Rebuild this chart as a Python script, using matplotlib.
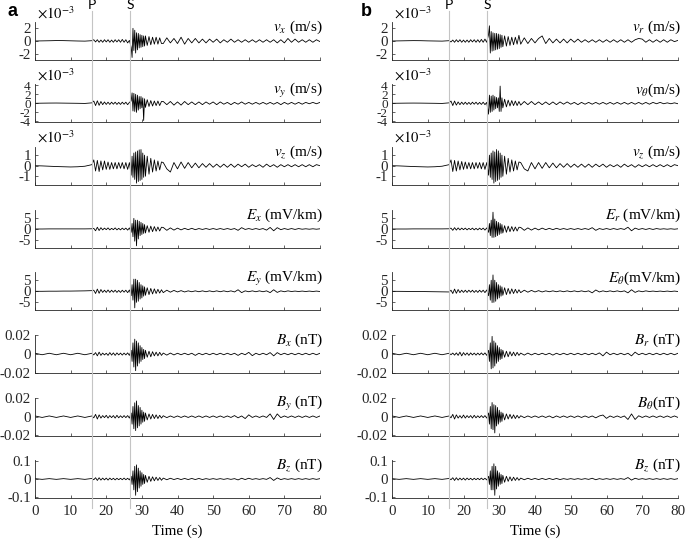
import numpy as np
import matplotlib
matplotlib.use('Agg')
import matplotlib.pyplot as plt
from matplotlib import transforms
from matplotlib.lines import Line2D

plt.rcParams['font.family'] = 'Liberation Serif'
plt.rcParams['mathtext.fontset'] = 'stix'
plt.rcParams['axes.unicode_minus'] = False

# sample times (s): coarse before P, finer through the P and S windows
t_pre = [0, 2, 4, 6, 8, 10, 12, 14]
t_p = [16, 16.5, 17, 17.5, 18, 18.5, 19, 19.5, 20, 20.5, 21, 21.5,
       22, 22.5, 23, 23.5, 24, 24.5, 25, 25.5, 26, 26.5]
t_s1 = [27, 27.25, 27.5, 27.75, 28, 28.25, 28.5, 28.75,
        29, 29.25, 29.5, 29.75, 30, 30.25, 30.5, 30.75]
t_s2 = [31, 31.5, 32, 32.5, 33, 33.5, 34, 34.5, 35, 35.5]
t_tail = list(range(36, 81))
time = np.array(t_pre + t_p + t_s1 + t_s2 + t_tail, dtype=float)

p_arrival = 16.0
s_arrival = 26.7

# common quiet tails (peaks)
vel_tail_1 = [-0.4, 0.5, -0.3, 0.4, -0.4, 0.6, -0.5, 0.4, -0.3, 0.4,
              -0.3, 0.3, -0.3, 0.3, -0.2, 0.3, -0.3, 0.2, -0.2, 0.3,
              -0.2, 0.2, -0.2, 0.2, -0.2, 0.2, -0.2, 0.2, -0.2, 0.2,
              -0.2, 0.2, -0.3, 0.2, -0.3, 0.4, -0.2, 0.3, -0.2, 0.2,
              -0.2, 0.2, -0.2, 0.2, -0.1]

# ---- panel a : x, y, z components ----
# velocities in 1e-3 m/s
vx_a = ([0.0, 0.02, 0.04, 0.07, 0.06, 0.03, 0.0, -0.02]
        + [0.05, 0.2, -0.15, 0.2, -0.2, 0.15, -0.2, 0.2, -0.15, 0.2, -0.2,
           0.15, -0.2, 0.2, -0.15, 0.2, -0.2, 0.25, -0.2, 0.2, -0.3, 0.1]
        + [-1.0, -2.6, 2.0, -1.5, 1.7, -1.9, 1.3, -1.4, 1.2, -1.1, 1.0, -1.0, 0.9, -0.9, 0.8, -0.8]
        + [0.8, -0.7, 0.7, -0.6, 0.6, -0.5, 0.6, -0.5, 0.5, -0.4]
        + vel_tail_1)
vy_a = ([0.0, 0.03, 0.05, 0.06, 0.04, 0.02, 0.0, -0.03]
        + [0.1, 0.5, -0.5, 0.55, -0.45, 0.4, -0.3, 0.3, -0.25, 0.25, -0.25,
           0.25, -0.2, 0.25, -0.25, 0.2, -0.25, 0.25, -0.2, 0.25, -0.3, 0.2]
        + [0.5, 2.3, -1.7, 2.2, -1.8, 2.0, -2.0, 1.8, -1.5, 1.5, -1.2, 1.5, -1.0, 1.2, -3.8, 1.0]
        + [-0.9, 0.8, -0.7, 0.6, -0.6, 0.5, -0.5, 0.5, -0.5, 0.4]
        + [0.4, -0.3, 0.4, -0.4, 0.3, -0.4, 0.4, -0.3, 0.3, -0.3,
           0.3, -0.3, 0.3, -0.2, 0.3, -0.3, 0.3, -0.2, 0.2, -0.3,
           0.2, -0.2, 0.3, -0.2, 0.2, -0.2, 0.2, -0.2, 0.2, -0.2,
           0.2, -0.2, 0.2, -0.3, 0.2, -0.2, 0.2, -0.2, 0.2, -0.2,
           0.2, -0.1, 0.2, -0.1, 0.2])
vz_a = ([0.0, -0.02, -0.05, -0.08, -0.1, -0.12, -0.1, -0.05]
        + [0.1, 0.55, -0.5, 0.5, -0.55, 0.45, -0.4, 0.45, -0.35, 0.35, -0.35,
           0.3, -0.3, 0.3, -0.3, 0.3, -0.25, 0.3, -0.3, 0.3, -0.35, 0.3]
        + [-0.9, 0.9, -1.1, 1.2, -1.3, 1.3, -1.65, 1.4, -1.5, 1.5, -1.4, 1.53, -1.3, 1.2, -1.1, 1.0]
        + [-1.0, 0.9, -0.8, 0.7, -0.6, 0.55, -0.5, 0.45, -0.4, 0.35]
        + [0.3, -0.3, -0.6, 0.3, -0.3, 0.35, -0.25, 0.3, -0.2, 0.25,
           -0.2, 0.2, -0.15, 0.2, -0.15, 0.15, -0.15, 0.15, -0.15, 0.15,
           -0.15, 0.15, -0.1, 0.15, -0.15, 0.1, -0.1, 0.1, -0.15, 0.15,
           -0.1, 0.1, -0.15, 0.1, -0.1, 0.1, -0.1, 0.1, -0.1, 0.1,
           -0.1, 0.1, -0.1, 0.1, 0.0])
# electric field in mV/km
ex_a = ([0.0, 0.0, 0.05, 0.05, 0.05, 0.05, 0.05, 0.05]
        + [0.1, 0.3, -0.8, 0.8, -0.7, 0.6, -0.4, 0.4, -0.3, 0.5, -0.4,
           0.3, -0.3, 0.5, -0.4, 0.3, -0.4, 0.4, -0.3, 0.4, -0.5, 0.5]
        + [-1.5, 2.5, -3.5, 4.8, -5.5, 4.0, -7.6, 4.0, -4.5, 3.5, -3.0, 3.0, -2.5, 2.5, -2.0, 2.0]
        + [-1.8, 1.5, -1.5, 1.3, -1.2, 1.1, -1.0, 0.9, -0.9, 0.8]
        + [0.7, -0.6, 0.5, -0.5, 0.4, -0.4, 0.3, -0.3, 0.3, -0.3,
           0.2, -0.2, 0.2, -0.2, 0.2, -0.2, 0.2, -0.2, 0.2, -0.2,
           0.2, -0.6, 0.6, -0.2, 0.2, -0.2, 0.2, -0.2, 0.2, -0.5,
           0.7, -0.8, 0.6, -0.3, 0.2, -0.2, 0.2, -0.2, 0.2, -0.1,
           0.1, -0.1, 0.1, -0.1, 0.1])
ey_a = ([0.0, 0.0, 0.05, 0.05, 0.1, 0.1, 0.15, 0.2]
        + [0.3, 0.5, -1.0, 1.0, -0.9, 0.8, -0.5, 0.5, -0.5, 0.6, -0.5,
           0.5, -0.4, 0.5, -0.5, 0.4, -0.5, 0.5, -0.4, 0.5, -0.6, 0.6]
        + [-2.0, 3.0, -4.0, 5.5, -7.5, 5.5, -5.0, 5.0, -4.5, 4.0, -3.5, 3.0, -3.0, 2.5, -2.2, 2.0]
        + [-1.8, 1.6, -1.5, 1.3, -1.2, 1.1, -1.0, 0.9, -0.8, 0.7]
        + [-0.6, 0.5, -0.4, 0.4, -0.3, 0.3, -0.3, 0.2, -0.2, 0.2,
           -0.2, 0.2, -0.2, 0.2, -0.2, 0.2, -0.2, 0.2, -0.2, 0.2,
           -0.3, 0.7, -0.6, 0.2, -0.2, 0.2, -0.2, 0.2, -0.2, 0.2,
           -0.6, 0.7, -0.5, 0.2, -0.2, 0.2, -0.1, 0.1, -0.1, 0.1,
           -0.1, 0.1, -0.1, 0.1, -0.1])
# magnetic field in nT
bx_a = ([0.0008, -0.0008, 0.0008, -0.0008, 0.0008, -0.0008, 0.0008, -0.0008]
        + [0.0008, -0.001, 0.0015, -0.002, 0.002, -0.0015, 0.001, -0.001, 0.0008, -0.0015, 0.0015,
           -0.0012, 0.0012, -0.0015, 0.0012, -0.001, 0.001, -0.0012, 0.001, -0.001, 0.0012, -0.0015]
        + [0.004, -0.008, 0.012, -0.014, 0.016, -0.018, 0.014, -0.013,
           0.012, -0.01, 0.009, -0.008, 0.007, -0.006, 0.005, -0.005]
        + [0.004, -0.0035, 0.003, -0.003, 0.0025, -0.002, 0.002, -0.002, 0.0018, -0.0015]
        + [0.001, -0.0012, 0.001, -0.001, 0.0008, -0.0008, 0.0008, -0.0008, 0.0008, -0.0015,
           0.0008, -0.0008, 0.0008, -0.0008, 0.0008, -0.0008, 0.0008, -0.0008, 0.0008, -0.0008,
           0.0008, -0.0015, 0.0008, -0.0008, 0.0018, -0.0018, 0.0008, -0.0008, 0.0008, -0.0008,
           0.0015, -0.002, 0.0015, -0.0008, 0.0008, -0.0008, 0.0008, -0.0008, 0.0008, -0.0008,
           0.0008, -0.0008, 0.0008, -0.0008, 0.0008])
by_a = ([0.0008, -0.0008, 0.0008, -0.0008, 0.0008, -0.0008, 0.0008, -0.0008]
        + [0.0008, -0.0012, 0.0025, -0.0025, 0.002, -0.0015, 0.0012, -0.001, 0.0015, -0.0015, 0.0012,
           -0.001, 0.0012, -0.0015, 0.0015, -0.0012, 0.001, -0.001, 0.0012, -0.001, 0.0012, -0.0015]
        + [0.004, -0.008, 0.011, -0.013, 0.015, -0.015, 0.017, -0.012,
           0.012, -0.01, 0.01, -0.008, 0.007, -0.006, 0.005, -0.005]
        + [0.004, -0.0035, 0.003, -0.0025, 0.0025, -0.002, 0.002, -0.002, 0.0015, -0.0015]
        + [0.001, -0.001, 0.0008, -0.0008, 0.0008, -0.0008, 0.0008, -0.0008, 0.0008, -0.0008,
           0.0008, -0.0008, 0.0008, -0.0008, 0.0008, -0.0008, 0.0008, -0.0008, 0.0008, -0.0008,
           0.0012, -0.0012, 0.0008, -0.002, 0.002, -0.0008, 0.0008, -0.0008, 0.0008, -0.0008,
           0.003, -0.003, 0.003, -0.001, 0.0008, -0.0008, 0.0008, -0.0008, 0.0008, -0.0008,
           0.0008, -0.0008, 0.0008, -0.0008, 0.0008])
bz_a = ([0.002, -0.002, 0.002, -0.002, 0.002, -0.002, 0.002, -0.002]
        + [0.003, -0.004, 0.007, -0.008, 0.007, -0.006, 0.005, -0.005, 0.005, -0.006, 0.005,
           -0.004, 0.004, -0.005, 0.004, -0.004, 0.004, -0.004, 0.005, -0.004, 0.004, -0.005]
        + [0.015, -0.03, 0.045, -0.06, 0.07, -0.09, 0.078, -0.07,
           0.06, -0.05, 0.045, -0.04, 0.035, -0.03, 0.025, -0.025]
        + [0.02, -0.018, 0.015, -0.013, 0.012, -0.01, 0.01, -0.008, 0.008, -0.007]
        + [0.005, -0.004, 0.004, -0.003, 0.003, -0.003, 0.003, -0.003, 0.003, -0.003,
           0.003, -0.003, 0.002, -0.002, 0.002, -0.002, 0.002, -0.002, 0.002, -0.002,
           0.002, -0.005, 0.004, -0.003, 0.004, -0.002, 0.002, -0.002, 0.002, -0.002,
           0.008, -0.008, 0.006, -0.003, 0.002, -0.002, 0.002, -0.002, 0.002, -0.002,
           0.002, -0.002, 0.002, -0.002, 0.002])

# ---- panel b : r, theta, z components ----
vr_b = ([0.0, 0.02, 0.04, 0.06, 0.05, 0.02, 0.0, -0.02]
        + [0.05, -0.15, 0.15, -0.2, 0.2, -0.15, 0.2, -0.2, 0.15, -0.2, 0.15,
           -0.2, 0.2, -0.15, 0.2, -0.2, 0.2, -0.2, 0.25, -0.2, 0.3, -0.2]
        + [1.0, 2.4, -1.9, 1.5, -1.6, 1.3, -1.5, 1.2, -1.4, 1.2, -1.3, 1.1, -1.2, 1.0, -1.0, 0.9]
        + [-0.9, 0.8, -0.8, 0.7, -0.7, 0.6, -0.6, 0.6, -0.5, 0.9]
        + [-0.5, 0.5, -0.4, 0.4, -0.3, 0.4, 0.8, -0.4, 0.4, -0.3,
           0.3, -0.3, 0.3, -0.3, 0.3, -0.2, 0.3, -0.2, 0.2, -0.2,
           0.2, -0.2, 0.2, -0.2, 0.2, -0.2, 0.2, -0.2, 0.2, -0.2,
           0.2, -0.2, 0.2, 0.4, 0.3, -0.2, 0.2, -0.2, 0.2, -0.2,
           0.2, -0.2, 0.2, -0.1, 0.1])
vt_b = ([0.0, 0.02, 0.04, 0.05, 0.04, 0.02, 0.0, -0.03]
        + [0.1, 0.5, -0.5, 0.5, -0.4, 0.3, -0.3, 0.25, -0.25, 0.25, -0.25,
           0.2, -0.25, 0.25, -0.2, 0.25, -0.25, 0.2, -0.25, 0.25, -0.3, 0.2]
        + [-2.4, 1.8, -2.0, 1.6, -1.8, 1.8, -1.5, 1.5, -1.2, 1.3, -1.0, 1.2, -1.8, 3.8, -1.8, 1.2]
        + [-1.0, 0.9, -0.8, 0.7, -0.6, 0.6, -0.5, 0.5, -0.5, 0.4]
        + [-0.4, 0.4, -0.3, 0.4, -0.3, 0.3, -0.3, 0.3, -0.3, 0.3,
           -0.3, 0.3, -0.2, 0.3, -0.2, 0.2, -0.3, 0.2, -0.2, 0.2,
           -0.2, 0.2, -0.2, 0.2, -0.2, 0.2, -0.2, 0.2, -0.2, 0.2,
           -0.2, 0.2, -0.2, 0.2, -0.2, 0.2, -0.2, 0.2, -0.1, 0.2,
           -0.1, 0.1, -0.1, 0.1, -0.1])
vz_b = ([0.0, -0.02, -0.05, -0.08, -0.1, -0.12, -0.1, -0.05]
        + [0.1, 0.55, -0.55, 0.5, -0.5, 0.45, -0.4, 0.4, -0.35, 0.35, -0.3,
           0.3, -0.3, 0.3, -0.3, 0.3, -0.25, 0.3, -0.3, 0.3, -0.35, 0.3]
        + [-0.9, 1.0, -1.1, 1.2, -1.3, 1.4, -1.65, 1.3, -1.5, 1.53, -1.4, 1.4, -1.3, 1.2, -1.1, 1.0]
        + [-1.0, 0.9, -0.8, 0.7, -0.6, 0.55, -0.5, 0.45, -0.4, 0.35]
        + [0.3, -0.3, -0.5, 0.3, -0.3, 0.3, -0.25, 0.3, -0.2, 0.25,
           -0.2, 0.2, -0.15, 0.2, -0.15, 0.15, -0.15, 0.15, -0.15, 0.15,
           -0.15, 0.15, -0.1, 0.15, -0.15, 0.1, -0.1, 0.1, -0.15, 0.15,
           -0.1, 0.1, -0.15, 0.1, -0.1, 0.1, -0.1, 0.1, -0.1, 0.1,
           -0.1, 0.1, -0.1, 0.1, 0.0])
er_b = ([0.0, 0.0, 0.0, 0.05, 0.05, 0.05, 0.05, 0.05]
        + [0.1, 0.4, -0.6, 0.6, -0.5, 0.5, -0.4, 0.4, -0.3, 0.4, -0.4,
           0.3, -0.3, 0.4, -0.4, 0.3, -0.4, 0.4, -0.3, 0.4, -0.5, 0.5]
        + [-1.5, 2.5, -3.0, 4.0, -3.8, 7.6, -3.8, 4.5, -3.5, 3.5, -3.0, 3.0, -2.5, 2.5, -2.0, 2.0]
        + [-1.8, 1.5, -1.5, 1.3, -1.2, 1.1, -1.0, 0.9, -0.9, 0.8]
        + [0.7, -0.6, 0.5, -0.5, 0.4, -0.4, 0.4, -0.3, 0.3, -0.3,
           0.3, -0.2, 0.2, -0.2, 0.2, -0.2, 0.2, -0.2, 0.2, -0.2,
           0.6, -0.6, 0.2, -0.2, 0.2, -0.2, 0.2, -0.2, 0.2, -0.2,
           0.8, -0.8, 0.4, -0.2, 0.2, -0.2, 0.2, -0.2, 0.2, -0.1,
           0.1, -0.1, 0.1, -0.1, 0.1])
et_b = ([0.0, -0.02, -0.05, -0.08, -0.1, -0.15, -0.2, -0.25]
        + [-0.3, 0.5, -1.0, 1.0, -0.9, 0.8, -0.6, 0.5, -0.5, 0.5, -0.5,
           0.5, -0.4, 0.5, -0.5, 0.4, -0.5, 0.5, -0.4, 0.5, -0.6, 0.6]
        + [-2.0, 3.0, -4.0, 5.0, -5.1, 7.4, -5.0, 5.0, -4.5, 4.0, -3.5, 3.0, -3.0, 2.5, -2.2, 2.0]
        + [-1.8, 1.6, -1.5, 1.3, -1.2, 1.1, -1.0, 0.9, -0.8, 0.7]
        + [-0.6, 0.5, -0.4, 0.4, -0.3, 0.3, -0.3, 0.2, -0.2, 0.2,
           -0.2, 0.2, -0.2, 0.2, -0.2, 0.2, -0.2, 0.2, -0.2, 0.2,
           -0.7, 0.6, -0.3, 0.2, -0.2, 0.2, -0.2, 0.2, -0.2, 0.2,
           -0.7, 0.7, -0.5, 0.2, -0.2, 0.2, -0.1, 0.1, -0.1, 0.1,
           -0.1, 0.1, -0.1, 0.1, -0.1])
br_b = ([0.0008, -0.0008, 0.0008, -0.0008, 0.0008, -0.0008, 0.0008, -0.0008]
        + [0.0008, -0.0008, 0.001, -0.0012, 0.0012, -0.0015, 0.002, -0.002, 0.0015, -0.0012, 0.0012,
           -0.0015, 0.0012, -0.001, 0.001, -0.0012, 0.001, -0.001, 0.0012, -0.001, 0.0012, -0.0015]
        + [0.004, -0.008, 0.012, -0.016, 0.019, -0.015, 0.014, -0.013,
           0.012, -0.01, 0.009, -0.008, 0.007, -0.006, 0.005, -0.005]
        + [0.004, -0.0035, 0.003, -0.003, 0.0025, -0.002, 0.002, -0.002, 0.0018, -0.0015]
        + [0.001, -0.0012, 0.001, -0.001, 0.0008, -0.0008, 0.0008, -0.0008, 0.0008, -0.0012,
           0.0008, -0.0008, 0.0008, -0.0008, 0.0008, -0.0008, 0.0008, -0.0008, 0.0008, -0.0008,
           0.0008, -0.0008, 0.0012, -0.002, 0.002, -0.0008, 0.0008, -0.0008, 0.0008, -0.0008,
           0.0008, -0.002, 0.002, -0.0008, 0.0008, -0.0008, 0.0008, -0.0008, 0.0008, -0.0008,
           0.0008, -0.0008, 0.0008, -0.0008, 0.0008])
bt_b = ([0.0008, -0.0008, 0.0008, -0.0008, 0.0008, -0.0008, 0.0008, -0.0008]
        + [0.0008, -0.0012, 0.0025, -0.0025, 0.002, -0.0015, 0.0012, -0.0015, 0.0018, -0.0015, 0.0012,
           -0.001, 0.0012, -0.0015, 0.0015, -0.0012, 0.001, -0.001, 0.0012, -0.001, 0.0012, -0.0015]
        + [0.004, -0.008, 0.011, -0.013, 0.0153, -0.014, 0.013, -0.0175,
           0.012, -0.01, 0.01, -0.008, 0.007, -0.006, 0.005, -0.005]
        + [0.004, -0.0035, 0.003, -0.0025, 0.0025, -0.002, 0.002, -0.002, 0.0015, -0.0015]
        + [0.001, -0.001, 0.0008, -0.0008, 0.0008, -0.0008, 0.0008, -0.0008, 0.0008, -0.0012,
           0.0008, -0.0008, 0.0008, -0.0008, 0.0008, -0.0008, 0.0008, -0.0008, 0.0008, -0.0008,
           0.0008, -0.0012, 0.0008, 0.0018, -0.0018, 0.0008, -0.0008, 0.0008, -0.0008, 0.0008,
           -0.003, 0.003, -0.003, 0.001, -0.0008, 0.0008, -0.0008, 0.0008, -0.0008, 0.0008,
           -0.0008, 0.0008, -0.0008, 0.0008, -0.0008])
bz_b = ([0.002, -0.002, 0.002, -0.002, 0.002, -0.002, 0.002, -0.002]
        + [0.003, -0.004, 0.007, -0.008, 0.007, -0.006, 0.005, -0.005, 0.005, -0.006, 0.005,
           -0.004, 0.004, -0.005, 0.004, -0.004, 0.004, -0.004, 0.005, -0.004, 0.004, -0.005]
        + [0.015, -0.03, 0.045, -0.06, 0.07, -0.06, 0.084, -0.09,
           0.07, -0.055, 0.045, -0.04, 0.035, -0.03, 0.025, -0.025]
        + [0.02, -0.018, 0.015, -0.013, 0.012, -0.01, 0.01, -0.008, 0.008, -0.007]
        + [0.005, -0.004, 0.004, -0.003, 0.003, -0.003, 0.003, -0.003, 0.003, -0.003,
           0.003, -0.003, 0.002, -0.002, 0.002, -0.002, 0.002, -0.002, 0.002, -0.002,
           0.004, -0.004, 0.002, -0.002, 0.002, -0.002, 0.002, -0.002, 0.002, -0.002,
           0.008, -0.006, 0.004, -0.002, 0.002, -0.002, 0.002, -0.002, 0.002, -0.002,
           0.002, -0.002, 0.002, -0.002, 0.002])

traces_a = [vx_a, vy_a, vz_a, ex_a, ey_a, bx_a, by_a, bz_a]
traces_b = [vr_b, vt_b, vz_b, er_b, et_b, br_b, bt_b, bz_b]
labels_a = [r'$v_x$ (m/s)', r'$v_y$ (m/s)', r'$v_z$ (m/s)', r'$E_x$ (mV/km)',
            r'$E_y$ (mV/km)', r'$B_x$ (nT)', r'$B_y$ (nT)', r'$B_z$ (nT)']
labels_b = [r'$v_r$ (m/s)', r'$v_\theta$(m/s)', r'$v_z$ (m/s)', r'$E_r$ (mV/km)',
            r'$E_\theta$(mV/km)', r'$B_r$ (nT)', r'$B_\theta$(nT)', r'$B_z$ (nT)']
ylims = [3, 4.2, 1.8, 8.6, 8.6, 0.0205, 0.0205, 0.105]
yticks = [[-2, 0, 2], [-4, -2, 0, 2, 4], [-1, 0, 1], [-5, 0, 5], [-5, 0, 5],
          [-0.02, 0, 0.02], [-0.02, 0, 0.02], [-0.1, 0, 0.1]]
xticks = [0, 10, 20, 30, 40, 50, 60, 70, 80]

W, H = 685, 539
fig = plt.figure(figsize=(W / 100, H / 100), dpi=100)
row_mid = [41, 103.3, 165.7, 229, 291.3, 354, 416.7, 479]
row_h = 38

panels = [(35, 320, traces_a, labels_a, 'a', 12), (392, 678, traces_b, labels_b, 'b', 366)]
for x0, x1, traces, labels, tag, tag_x in panels:
    axes = []
    for i, (vals, lab) in enumerate(zip(traces, labels)):
        assert len(vals) == len(time), (lab, len(vals))
        ax = fig.add_axes([x0 / W, 1 - (row_mid[i] + row_h / 2) / H, (x1 - x0) / W, row_h / H])
        ax.plot(time, vals, color='k', lw=0.6)
        ax.set_xlim(0, 80)
        ax.set_ylim(-ylims[i], ylims[i])
        ax.set_yticks(yticks[i])
        ax.set_yticklabels([f'{v:g}' for v in yticks[i]])
        ax.set_xticks(xticks)
        if i < 7:
            ax.set_xticklabels([])
        for side in ['top', 'right']:
            ax.spines[side].set_visible(False)
        for side in ['left', 'bottom']:
            ax.spines[side].set_color('#262626')
            ax.spines[side].set_linewidth(0.6)
        ax.tick_params(direction='in', length=2.5, width=0.5, colors='#262626',
                       labelsize=10.8, pad=3)
        ax.tick_params(axis='x', pad=5)
        if i == 1:
            ax.tick_params(axis='y', labelsize=9.5)
        ax.patch.set_alpha(0)
        ax.text(1.01, 0.76, lab, transform=ax.transAxes, ha='right', va='baseline', fontsize=11)
        if i < 3:
            ax.text(0.008, 1.1, r'$\times 10^{-3}$', transform=ax.transAxes,
                    ha='left', va='baseline', fontsize=10.5)
        axes.append(ax)
    axes[-1].set_xlabel('Time (s)', fontsize=10.8, labelpad=5)

    tr = transforms.blended_transform_factory(axes[-1].transData, fig.transFigure)
    for t_arr, name in [(p_arrival, 'P'), (s_arrival, 'S')]:
        fig.add_artist(Line2D([t_arr, t_arr], [1 - 11 / H, 1 - 508 / H], transform=tr,
                              color='#c4c4c4', lw=0.8))
        fig.text(t_arr, 1 - 5 / H, name, transform=tr, ha='center', va='center',
                 family='Lato', fontsize=10)
    fig.text(tag_x / W, 1 - 12 / H, tag, ha='center', va='center', family='Liberation Sans',
             fontweight='bold', fontsize=13)

fig.savefig('out.png', dpi=100, facecolor='white')
